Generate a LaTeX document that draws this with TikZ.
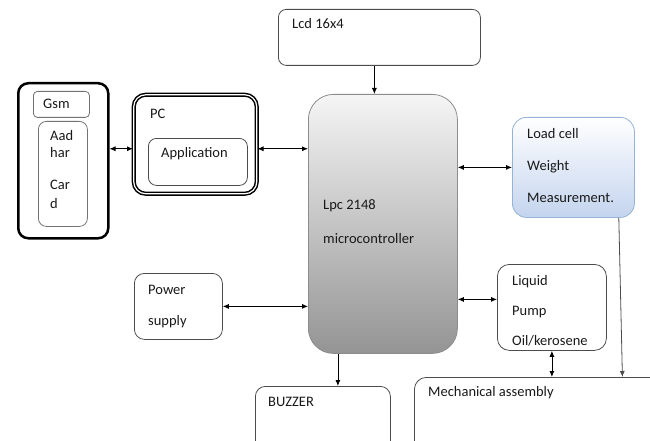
\documentclass[tikz,border=0pt]{standalone}
\usepackage{fontspec}
\setmainfont{Carlito}
\usetikzlibrary{positioning, arrows.meta}
\definecolor{loadline}{RGB}{149,179,215}
\definecolor{loadfill}{RGB}{196,212,238}
\definecolor{boxline}{gray}{0.30}

\begin{document}
\begin{tikzpicture}[>={Latex[length=6pt,width=5pt]}, x=1pt, y=-1pt,
  blk/.style={draw=boxline, anchor=north west, rounded corners=#1, line width=0.8pt, inner sep=0pt},
  blk/.default=10pt,
  txt/.style={inner sep=0pt, align=left, text=black!90, font=\fontsize{14.5}{17.5}\selectfont}]
\def\lw{0.8pt}

\useasboundingbox (0,0) rectangle (650,441);
\clip (0,0) rectangle (650,441);

%Top
\node (lcd) at (278,9) [blk=8pt, minimum width=202pt, minimum height=56pt] {};
\node (lcdtxt) [txt, below right=9.5pt and 14pt of lcd.north west] {Lcd 16x4};

%Controller
\node (mcu) at (308,94) [blk=25pt, draw=black!45, top color=black!4, bottom color=black!42, minimum width=149pt, minimum height=259pt] {};
\node (mcutxt) [txt, below right=105.5pt and 15pt of mcu.north west] {Lpc 2148\\[16.5pt]microcontroller};

%Left side
\node (idbox) at (17,82) [blk, draw=black, line width=2.5pt, minimum width=90pt, minimum height=155pt] {};
\node (gsm) at (33,91) [blk=4pt, draw=black!55, minimum width=56pt, minimum height=26pt] {};
\node (gsmtxt) [txt, below right=7.5pt and 10pt of gsm.north west] {Gsm};
\node (aad) at (38,121) [blk=8pt, draw=black!55, minimum width=49pt, minimum height=105pt] {};
\node (aadtxt) [txt, below right=9.5pt and 12pt of aad.north west] {Aad\\[-0.5pt]har\\[14.5pt]Car\\[1.5pt]d};

\node (pc) at (133,94) [blk=12pt, draw=black, line width=1.5pt, double=white, double distance=1.2pt, minimum width=123pt, minimum height=99pt] {};
\node (pctxt) [txt, below right=14.5pt and 17pt of pc.north west] {PC};
\node (app) at (148,138) [blk=8pt, minimum width=99pt, minimum height=47pt] {};
\node (apptxt) [txt, below right=9.5pt and 13pt of app.north west] {Application};

\node (power) at (134,273) [blk, minimum width=88pt, minimum height=66pt] {};
\node (powertxt) [txt, below right=11.5pt and 14pt of power.north west] {Power\\[13.5pt]supply};

%Right side
\node (load) at (512,117) [blk=14pt, draw=loadline, top color=white, bottom color=loadfill, minimum width=122pt, minimum height=100pt] {};
\node (loadtxt) [txt, below right=11.5pt and 15pt of load.north west] {Load cell\\[14.5pt]Weight\\[14.5pt]Measurement.};

\node (pump) at (497,264) [blk=12pt, minimum width=109pt, minimum height=86pt] {};
\node (pumptxt) [txt, below right=11.5pt and 15pt of pump.north west] {Liquid\\[12.5pt]Pump\\[12.5pt]Oil/kerosene};

%Bottom
\node (buzz) at (255,386) [blk, minimum width=135pt, minimum height=70pt] {};
\node (buzztxt) [txt, below right=10.5pt and 13pt of buzz.north west] {BUZZER};
\node (mech) at (414,377) [blk=12pt, minimum width=260pt, minimum height=80pt] {};
\node (mechtxt) [txt, below right=9.5pt and 14pt of mech.north west] {Mechanical assembly};

%Connections
\coordinate (pcL) at ([yshift=-4.5pt]pc.west);
\coordinate (pcR) at ([yshift=-4.5pt]pc.east);
\coordinate (lcdout) at ([xshift=-5pt]lcd.south);
\coordinate (pumpin) at ([yshift=8pt]pump.west);
\coordinate (buzzin) at ([xshift=15pt]buzz.north);
\coordinate (loadout) at ([xshift=-16pt]load.south east);
\coordinate (mechin) at ([xshift=78pt]mech.north);

\draw[->, line width=\lw] (lcdout) -- (lcdout |- mcu.north);
\draw[<->, line width=\lw] (pcL -| idbox.east) -- (pcL);
\draw[<->, line width=\lw] (pcR) -- (pcR -| mcu.west);
\draw[<->, line width=\lw] (mcu.east |- load.west) -- (load.west);
\draw[<->, line width=\lw] (mcu.east |- pumpin) -- (pumpin);
\draw[<->, line width=\lw] (power.east) -- (power.east -| mcu.west);
\draw[->, line width=\lw] (buzzin |- mcu.south) -- (buzzin);
\draw[<->, line width=\lw] (pump.south) -- (pump.south |- mech.north);
\draw[->, line width=\lw, draw=boxline] (loadout) -- (mechin);

\end{tikzpicture}
\end{document}
